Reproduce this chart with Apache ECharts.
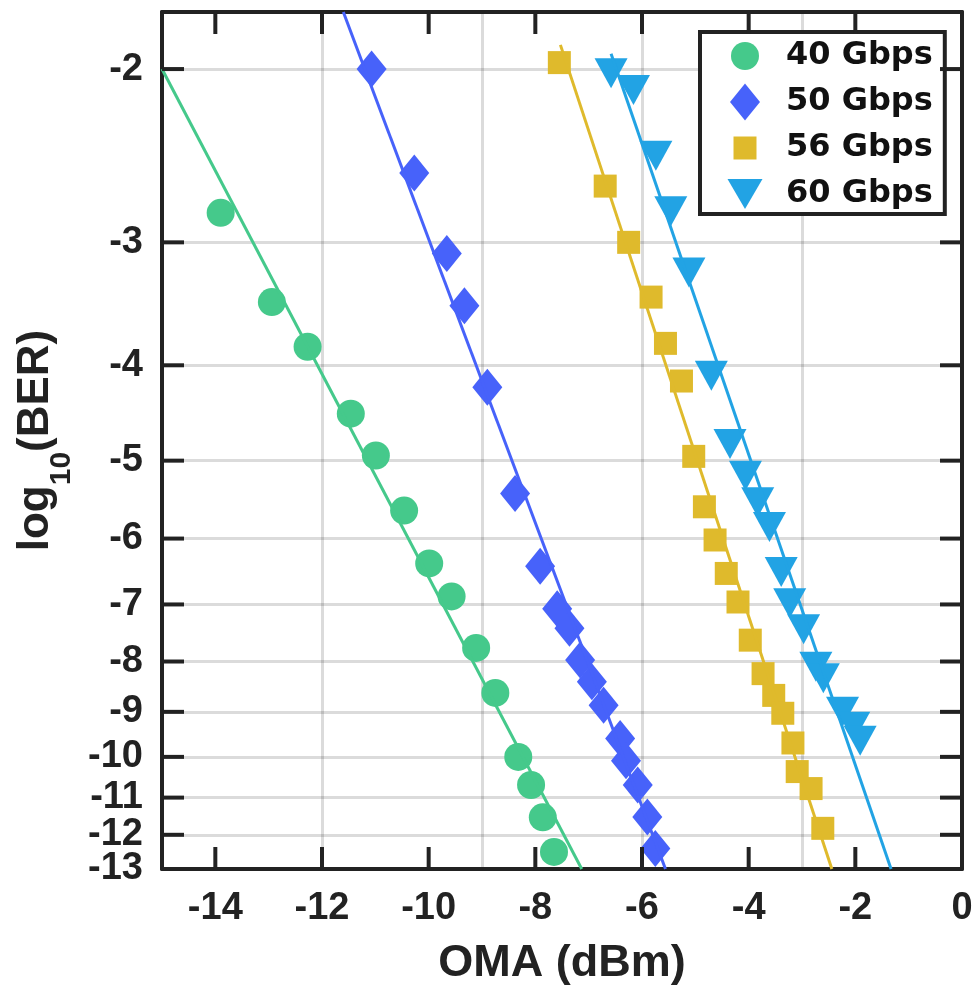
<!DOCTYPE html>
<html><head><meta charset="utf-8">
<script src="https://cdn.jsdelivr.net/npm/echarts@6/dist/echarts.min.js"></script>
<style>html,body{margin:0;padding:0;background:#fff}#c{width:979px;height:994px}</style>
</head><body><div id="c"></div>
<script>
// ---- data ----
const xTicks = [-14, -12, -10, -8, -6, -4, -2, 0];
const yTicks = [-2, -3, -4, -5, -6, -7, -8, -9, -10, -11, -12, -13];
const seriesNames = ['40 Gbps', '50 Gbps', '56 Gbps', '60 Gbps'];

const oma40 = [-13.90, -12.94, -12.27, -11.46, -10.99, -10.46, -9.99, -9.57, -9.11, -8.75, -8.32, -8.08, -7.86, -7.65];
const ber40 = [-2.80, -3.45, -3.83, -4.48, -4.94, -5.62, -6.36, -6.87, -7.75, -8.61, -10.00, -10.68, -11.52, -12.49];

const oma50 = [-11.07, -10.27, -9.66, -9.33, -8.90, -8.38, -7.91, -7.59, -7.36, -7.16, -6.94, -6.72, -6.41, -6.30, -6.08, -5.90, -5.75];
const ber50 = [-2.00, -2.55, -3.08, -3.48, -4.21, -5.40, -6.40, -7.07, -7.40, -7.97, -8.39, -8.86, -9.58, -10.09, -10.68, -11.51, -12.39];

const oma56 = [-7.55, -6.69, -6.25, -5.83, -5.56, -5.26, -5.03, -4.83, -4.63, -4.42, -4.20, -3.97, -3.73, -3.53, -3.36, -3.17, -3.09, -2.83, -2.61];
const ber56 = [-1.97, -2.63, -3.00, -3.41, -3.80, -4.15, -4.95, -5.57, -6.02, -6.51, -6.96, -7.61, -8.23, -8.66, -9.03, -9.68, -10.35, -10.77, -11.82];

const oma60 = [-6.58, -6.16, -5.74, -5.46, -5.12, -4.70, -4.35, -4.06, -3.83, -3.61, -3.39, -3.23, -2.97, -2.74, -2.60, -2.24, -2.03, -1.91];
const ber60 = [-2.02, -2.10, -2.45, -2.79, -3.22, -4.10, -4.81, -5.18, -5.51, -5.84, -6.49, -6.98, -7.42, -8.10, -8.32, -9.00, -9.32, -9.63];

// fitted lines (end points)
const fit40X = [-15.00, -7.13];  const fit40Y = [-2.00, -13.00];
const fit50X = [-11.60, -5.56];  const fit50Y = [-1.75, -13.00];
const fit56X = [-7.53, -2.44];   const fit56Y = [-1.89, -13.00];
const fit60X = [-6.58, -1.33];   const fit60Y = [-1.93, -13.00];

const xMin = -15, xMax = 0;
const yTop = -1.75, yBottom = -13;

// ---- build ----
const colors = ['#45C98B', '#4762FA', '#DFBA2C', '#22A3E4'];
const T = v => Math.log10(-v);            // axis transform: log of -log10(BER)
const pts = (xs, ys) => xs.map((x, i) => [x, T(ys[i])]);
const F = "'Liberation Sans', Arial, Helvetica, sans-serif";
const ink = '#222';
const TICK = 22;

const symbols = [
  {symbol: 'circle', size: 28, rot: 0},
  {symbol: 'diamond', size: [30, 37], rot: 0},
  {symbol: 'rect', size: 23, rot: 0},
  {symbol: 'triangle', size: [33, 30], rot: 180}
];
const legendIcons = [
  'path://M0,0M54,38M4,19A14,14,0,1,0,32,19A14,14,0,1,0,4,19Z',
  'path://M0,0M54,38M18,0.5L33,19L18,37.5L3,19Z',
  'path://M0,0M54,38M6.5,7.5H29.5V30.5H6.5Z',
  'path://M0,0M54,38M0.5,4H35.5L18,34Z'
];

const scatterData = [pts(oma40, ber40), pts(oma50, ber50), pts(oma56, ber56), pts(oma60, ber60)];
const fitData = [pts(fit40X, fit40Y), pts(fit50X, fit50Y), pts(fit56X, fit56Y), pts(fit60X, fit60Y)];
const yCustom = yTicks.map(T);

const series = [];
for (let i = 0; i < 4; i++) {
  series.push({
    type: 'line', data: fitData[i], showSymbol: false, symbol: 'none', silent: true,
    lineStyle: {color: colors[i], width: 3}, itemStyle: {color: colors[i]}, z: 3
  });
}
for (let i = 0; i < 4; i++) {
  series.push({
    type: 'scatter', name: seriesNames[i], data: scatterData[i],
    symbol: symbols[i].symbol, symbolSize: symbols[i].size, symbolRotate: symbols[i].rot,
    itemStyle: {color: colors[i], opacity: 1}, z: 2
  });
}
// inward tick marks on bottom & top, placed through the axis scale
series.push({
  type: 'custom', silent: true, clip: false, z: 5,
  data: xTicks.filter(v => v > xMin && v < xMax).map(v => [v, T(yBottom)]),
  renderItem: (params, api) => {
    const v = api.value(0);
    const b = api.coord([v, T(yBottom)]);
    const t = api.coord([v, T(yTop)]);
    return {type: 'group', children: [
      {type: 'line', shape: {x1: b[0], y1: b[1], x2: b[0], y2: b[1] - TICK}, style: {stroke: ink, lineWidth: 4}},
      {type: 'line', shape: {x1: t[0], y1: t[1], x2: t[0], y2: t[1] + TICK}, style: {stroke: ink, lineWidth: 4}}
    ]};
  }
});
// inward tick marks on left & right, plus the left tick labels
series.push({
  type: 'custom', silent: true, clip: false, z: 5,
  data: yTicks.map(v => [xMin, T(v), v]),
  renderItem: (params, api) => {
    const v = api.value(1);
    const l = api.coord([xMin, v]);
    const r = api.coord([xMax, v]);
    const children = [
      {type: 'text', x: l[0] - 19, y: l[1],
       style: {text: String(api.value(2)), fill: ink, font: "bold 38px 'Liberation Sans', Arial, sans-serif",
               align: 'right', verticalAlign: 'middle'}}
    ];
    if (api.value(2) !== yBottom) {
      children.push({type: 'line', shape: {x1: l[0], y1: l[1], x2: l[0] + TICK, y2: l[1]}, style: {stroke: ink, lineWidth: 4}});
      children.push({type: 'line', shape: {x1: r[0], y1: r[1], x2: r[0] - TICK, y2: r[1]}, style: {stroke: ink, lineWidth: 4}});
    }
    return {type: 'group', children: children};
  }
});

const xMain = {
  type: 'value', min: xMin, max: xMax, position: 'bottom',
  axisLine: {show: true, onZero: false, lineStyle: {color: ink, width: 4}},
  axisTick: {show: false},
  axisLabel: {show: true, customValues: xTicks, margin: 21, color: ink, fontFamily: F, fontWeight: 'bold', fontSize: 38,
    showMinLabel: true, showMaxLabel: true},
  splitLine: {show: true, lineStyle: {color: 'rgba(0,0,0,0.14)', width: 3}},
  name: 'OMA (dBm)', nameLocation: 'middle', nameGap: 72,
  nameTextStyle: {color: ink, fontFamily: F, fontWeight: 'bold', fontSize: 45}
};
const xTop = {
  type: 'value', min: xMin, max: xMax, position: 'top',
  axisLine: {show: true, onZero: false, lineStyle: {color: ink, width: 4}},
  axisTick: {show: false}, axisLabel: {show: false}, splitLine: {show: false}
};
const yMain = {
  type: 'value', inverse: true, min: T(yTop), max: T(yBottom), position: 'left',
  axisLine: {show: true, onZero: false, lineStyle: {color: ink, width: 4}},
  axisTick: {show: false, customValues: yCustom},
  axisLabel: {show: true, customValues: yCustom, margin: 19, color: 'rgba(0,0,0,0)', fontFamily: F, fontWeight: 'bold', fontSize: 38,
    formatter: v => String(-Math.round(Math.pow(10, v)))},
  splitLine: {show: true, lineStyle: {color: 'rgba(0,0,0,0.14)', width: 3}},
  name: '{a|log}{b|10}{a|(BER)}', nameLocation: 'middle', nameGap: 90, nameRotate: 90,
  nameTextStyle: {color: ink, fontFamily: F, fontWeight: 'bold', fontSize: 44,
    rich: {
      a: {color: ink, fontFamily: F, fontWeight: 'bold', fontSize: 44, lineHeight: 44, verticalAlign: 'top'},
      b: {color: ink, fontFamily: F, fontWeight: 'bold', fontSize: 30, lineHeight: 30, padding: [33, 0, 0, 0], verticalAlign: 'top'}
    }}
};
const yRight = {
  type: 'value', inverse: true, min: T(yTop), max: T(yBottom), position: 'right',
  axisLine: {show: true, onZero: false, lineStyle: {color: ink, width: 4}},
  axisTick: {show: false}, axisLabel: {show: false}, splitLine: {show: false}
};

const chart = echarts.init(document.getElementById('c'));
chart.setOption({
  animation: false,
  backgroundColor: '#fff',
  grid: {left: 162, right: 17, top: 12, bottom: 125},
  xAxis: [xMain, xTop],
  yAxis: [yMain, yRight],
  legend: {
    data: seriesNames.map((n, i) => ({name: n, icon: legendIcons[i]})),
    orient: 'vertical', left: 700, top: 32,
    itemWidth: 54, itemHeight: 38, itemGap: 8,
    padding: [5, 12, 1, 27],
    backgroundColor: '#fff', borderColor: ink, borderWidth: 4, borderRadius: 0,
    textStyle: {color: '#111', fontFamily: "'DejaVu Sans', sans-serif", fontWeight: 'bold', fontSize: 32},
    selectedMode: false
  },
  series: series
});
</script></body></html>
